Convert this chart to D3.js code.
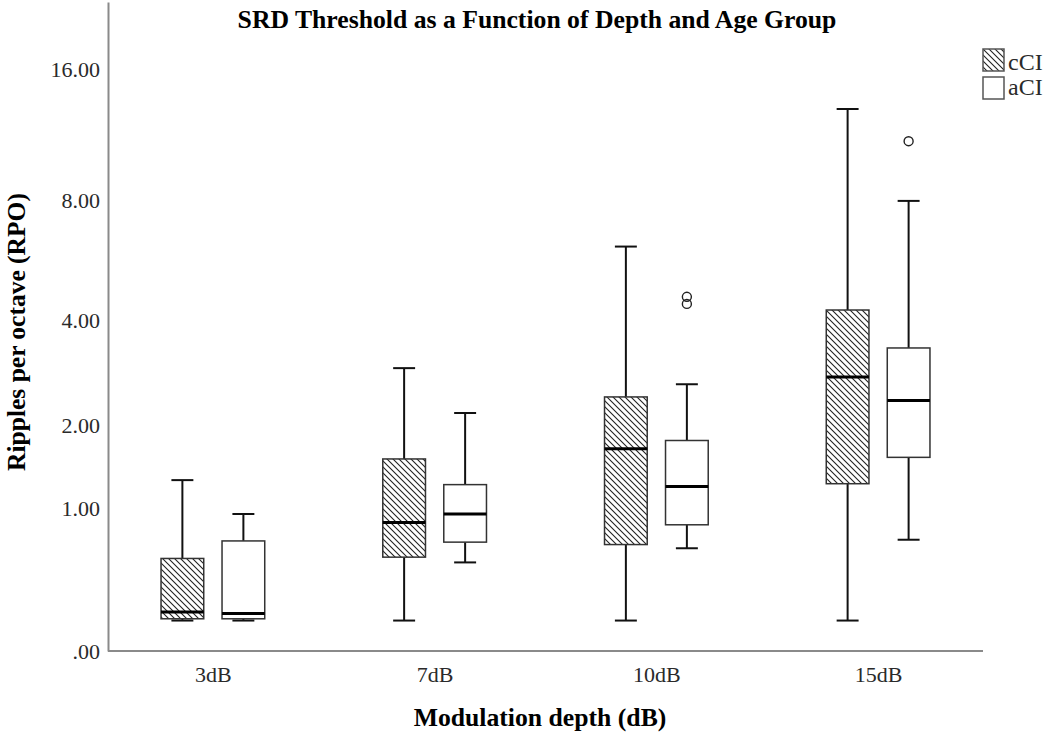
<!DOCTYPE html>
<html><head><meta charset="utf-8">
<script src="https://cdn.jsdelivr.net/npm/d3@7"></script>
<style>
html,body{margin:0;padding:0;background:#fff;}
svg{display:block;}
</style></head>
<body>
<svg id="chart" width="1050" height="732"></svg>
<script>
// ---- data ----
const categories = ["3dB", "7dB", "10dB", "15dB"];
const groups = ["cCI", "aCI"];
const yTicks = [0, 1, 2, 4, 8, 16];
const yTickLabels = [".00", "1.00", "2.00", "4.00", "8.00", "16.00"];

const cciLow    = [0.16, 0.16, 0.16, 0.16];
const cciQ1     = [0.17, 0.58, 0.68, 1.26];
const cciMedian = [0.21, 0.87, 1.68, 2.80];
const cciQ3     = [0.57, 1.55, 2.45, 4.27];
const cciHigh   = [1.30, 2.97, 6.18, 13.04];
const cciOutliers = [[], [], [], []];

const aciLow    = [0.16, 0.54, 0.65, 0.72];
const aciQ1     = [0.17, 0.70, 0.85, 1.57];
const aciMedian = [0.20, 0.95, 1.23, 2.39];
const aciQ3     = [0.71, 1.25, 1.79, 3.38];
const aciHigh   = [0.95, 2.19, 2.67, 7.97];
const aciOutliers = [[], [], [4.62, 4.43], [11.0]];

const series = [
  {name: "cCI", low: cciLow, q1: cciQ1, med: cciMedian, q3: cciQ3, high: cciHigh, out: cciOutliers},
  {name: "aCI", low: aciLow, q1: aciQ1, med: aciMedian, q3: aciQ3, high: aciHigh, out: aciOutliers}
];

// ---- layout ----
const svg = d3.select("#chart");
const mLeft = 108, mRight = 983, mBottom = 651, mTop = 2;

const x = d3.scalePoint().domain(categories).range([mLeft, mRight]).padding(0.473);
const inner = d3.scaleBand().domain(groups).range([-61, 61]);
const y = d3.scaleSymlog().constant(1).domain([0, 22.65]).range([mBottom, mTop]);

const defs = svg.append("defs");
const pat = defs.append("pattern").attr("id", "hatch")
  .attr("patternUnits", "userSpaceOnUse").attr("width", 6).attr("height", 6);
pat.append("rect").attr("width", 6).attr("height", 6).attr("fill", "#fff");
pat.append("path").attr("d", "M0,0 L6,6 M-1,5 L1,7 M5,-1 L7,1")
  .attr("stroke", "#222").attr("stroke-width", 1.1);

const serif = "'Liberation Serif','Times New Roman',serif";

// axes
const yAxis = svg.append("g").attr("transform", `translate(${mLeft},0)`)
  .call(d3.axisLeft(y).tickValues(yTicks).tickFormat((d, i) => yTickLabels[i]).tickSize(0).tickPadding(8));
yAxis.select(".domain").attr("stroke", "#8a8a8a").attr("stroke-width", 2);
yAxis.selectAll("text").attr("font-family", serif).attr("font-size", 22).attr("fill", "#2a2a2a");

const xAxis = svg.append("g").attr("transform", `translate(0,${mBottom})`)
  .call(d3.axisBottom(x).tickSize(0).tickPadding(15));
xAxis.select(".domain").attr("stroke", "#8a8a8a").attr("stroke-width", 2)
  .attr("d", `M${mLeft},0H${mRight}`);
xAxis.selectAll("text").attr("font-family", serif).attr("font-size", 22).attr("fill", "#2a2a2a");

// boxes
const bw = inner.bandwidth();
const boxW = bw * 0.7, capW = bw * 0.36;
series.forEach(s => {
  const g = svg.append("g");
  categories.forEach((c, i) => {
    const cx = x(c) + inner(s.name) + bw / 2;
    // whiskers
    g.append("line").attr("x1", cx).attr("x2", cx).attr("y1", y(s.high[i])).attr("y2", y(s.q3[i]))
      .attr("stroke", "#111").attr("stroke-width", 2);
    g.append("line").attr("x1", cx).attr("x2", cx).attr("y1", y(s.q1[i])).attr("y2", y(s.low[i]))
      .attr("stroke", "#111").attr("stroke-width", 2);
    g.append("line").attr("x1", cx - capW / 2).attr("x2", cx + capW / 2).attr("y1", y(s.high[i])).attr("y2", y(s.high[i]))
      .attr("stroke", "#111").attr("stroke-width", 2);
    g.append("line").attr("x1", cx - capW / 2).attr("x2", cx + capW / 2).attr("y1", y(s.low[i])).attr("y2", y(s.low[i]))
      .attr("stroke", "#111").attr("stroke-width", 2);
    // box
    g.append("rect").attr("x", cx - boxW / 2).attr("width", boxW)
      .attr("y", y(s.q3[i])).attr("height", y(s.q1[i]) - y(s.q3[i]))
      .attr("fill", s.name === "cCI" ? "url(#hatch)" : "#fff")
      .attr("stroke", "#333").attr("stroke-width", 1.5);
    // median
    g.append("line").attr("x1", cx - boxW / 2).attr("x2", cx + boxW / 2)
      .attr("y1", y(s.med[i])).attr("y2", y(s.med[i]))
      .attr("stroke", "#000").attr("stroke-width", 3);
    // outliers
    s.out[i].forEach(v => {
      g.append("circle").attr("cx", cx).attr("cy", y(v)).attr("r", 4.5)
        .attr("fill", "none").attr("stroke", "#222").attr("stroke-width", 1.4);
    });
  });
});

// title & labels
svg.append("text").attr("x", 537).attr("y", 28).attr("text-anchor", "middle")
  .attr("font-family", serif).attr("font-weight", "bold").attr("font-size", 25.7)
  .text("SRD Threshold as a Function of Depth and Age Group");
svg.append("text").attr("transform", "translate(25,332) rotate(-90)").attr("text-anchor", "middle")
  .attr("font-family", serif).attr("font-weight", "bold").attr("font-size", 25.5)
  .text("Ripples per octave (RPO)");
svg.append("text").attr("x", 540).attr("y", 726).attr("text-anchor", "middle")
  .attr("font-family", serif).attr("font-weight", "bold").attr("font-size", 25.7)
  .text("Modulation depth (dB)");

// legend
const leg = svg.append("g").attr("transform", "translate(983,49)");
groups.forEach((gname, i) => {
  leg.append("rect").attr("x", 0).attr("y", i * 28).attr("width", 21).attr("height", 22)
    .attr("fill", gname === "cCI" ? "url(#hatch)" : "#fff")
    .attr("stroke", "#555").attr("stroke-width", 1.5);
  leg.append("text").attr("x", 25).attr("y", i * 25 + 21)
    .attr("font-family", serif).attr("font-size", 24).attr("fill", "#2a2a2a").text(gname);
});
</script>
</body></html>
